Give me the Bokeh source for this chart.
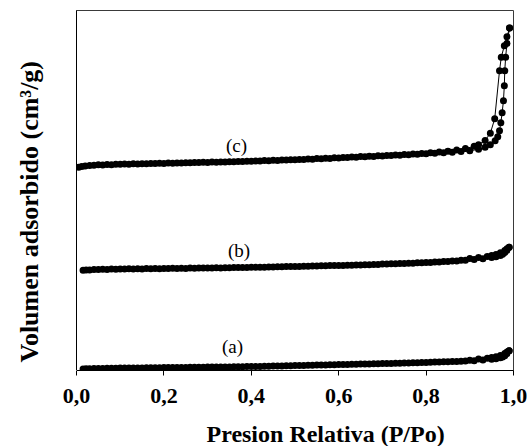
from bokeh.plotting import figure
from bokeh.models import Range1d, FixedTicker, Label, Title, LinearAxis
from bokeh.embed import file_html
from bokeh.resources import INLINE

# ---------------- data ----------------
x_ticks = [0.0, 0.2, 0.4, 0.6, 0.8, 1.0]
x_tick_labels = ["0,0", "0,2", "0,4", "0,6", "0,8", "1,0"]
series_names = ["(a)", "(b)", "(c)"]
x_title = "Presion Relativa (P/Po)"
y_title = "Volumen adsorbido (cm³/g)"

# relative pressure grids for samples (a) and (b)
p_ads_ab = [0.015, 0.03, 0.05, 0.07, 0.09, 0.11, 0.13, 0.15, 0.17, 0.19, 0.21, 0.23,
            0.25, 0.27, 0.29, 0.31, 0.33, 0.35, 0.37, 0.39, 0.41, 0.43, 0.45, 0.47,
            0.49, 0.51, 0.53, 0.55, 0.57, 0.59, 0.61, 0.63, 0.65, 0.67, 0.69, 0.71,
            0.73, 0.75, 0.77, 0.79, 0.81, 0.83, 0.85, 0.87, 0.89, 0.91, 0.93, 0.95,
            0.96, 0.97, 0.975, 0.98, 0.985, 0.99]
p_des_ab = [0.99, 0.985, 0.98, 0.97, 0.96, 0.95, 0.94, 0.92, 0.90, 0.88, 0.86, 0.84,
            0.82, 0.80, 0.78, 0.76, 0.74, 0.72, 0.70, 0.68, 0.66, 0.64, 0.62, 0.60,
            0.58, 0.56, 0.54, 0.52, 0.50, 0.48, 0.46, 0.44, 0.42, 0.40, 0.38, 0.36,
            0.34, 0.32, 0.30, 0.28, 0.26, 0.24, 0.22, 0.20, 0.18, 0.16, 0.14, 0.12, 0.10,
            0.08, 0.06, 0.04, 0.022]

v_ads_a = [1.5, 1.8, 2.0, 2.2, 2.3, 2.4, 2.5, 2.6, 2.7, 2.8, 2.9, 3.0,
           3.1, 3.2, 3.3, 3.4, 3.5, 3.6, 3.7, 3.9, 4.0, 4.2, 4.4, 4.6,
           4.8, 5.0, 5.2, 5.4, 5.6, 5.8, 6.0, 6.2, 6.4, 6.6, 6.8, 7.0,
           7.2, 7.4, 7.7, 7.9, 8.2, 8.5, 8.8, 9.1, 9.5, 9.9, 10.5, 11.2,
           11.8, 12.8, 13.6, 14.8, 16.8, 19.8]
v_des_a = [19.8, 18.5, 17.0, 15.0, 13.8, 13.0, 12.4, 11.6, 10.4, 9.4, 9.0, 8.7,
           8.4, 8.1, 7.8, 7.6, 7.3, 7.1, 6.9, 6.7, 6.5, 6.3, 6.1, 5.9,
           5.7, 5.5, 5.3, 5.1, 4.9, 4.7, 4.5, 4.3, 4.1, 3.95, 3.8, 3.7,
           3.6, 3.5, 3.4, 3.3, 3.2, 3.1, 3.0, 2.9, 2.8, 2.7, 2.6, 2.5, 2.4,
           2.3, 2.1, 1.9, 1.7]

v_ads_b = [100.5, 100.9, 101.2, 101.4, 101.6, 101.7, 101.8, 101.9, 102.0, 102.1, 102.2, 102.3,
           102.4, 102.6, 102.7, 102.8, 102.9, 103.0, 103.2, 103.3, 103.5, 103.6, 103.8, 104.0,
           104.2, 104.4, 104.6, 104.8, 105.0, 105.2, 105.4, 105.6, 105.8, 106.1, 106.4, 106.7,
           107.0, 107.3, 107.6, 108.0, 108.4, 108.8, 109.3, 109.8, 110.5, 111.2, 112.0, 113.2,
           114.0, 115.4, 116.6, 118.2, 120.5, 123.7]
v_des_b = [123.7, 122.0, 120.3, 118.0, 116.3, 115.2, 114.2, 113.2, 112.3, 110.6, 109.9, 109.3,
           108.8, 108.4, 108.0, 107.6, 107.3, 107.0, 106.7, 106.4, 106.1, 105.8, 105.6, 105.4,
           105.2, 105.0, 104.8, 104.6, 104.4, 104.2, 104.0, 103.8, 103.6, 103.5, 103.3, 103.2,
           103.1, 103.0, 102.9, 102.8, 102.7, 102.6, 102.5, 102.4, 102.3, 102.2, 102.1, 102.0, 101.9,
           101.7, 101.5, 101.2, 100.8]

# sample (c): adsorption and desorption branches (hysteresis loop)
p_ads_c = [0.005, 0.02, 0.04, 0.06, 0.08, 0.10, 0.12, 0.14, 0.16, 0.18, 0.20, 0.22,
           0.24, 0.26, 0.28, 0.30, 0.32, 0.34, 0.36, 0.38, 0.40, 0.42, 0.44, 0.46,
           0.48, 0.50, 0.52, 0.54, 0.56, 0.58, 0.60, 0.62, 0.64, 0.66, 0.68, 0.70,
           0.72, 0.74, 0.76, 0.78, 0.80, 0.82, 0.84, 0.86, 0.88, 0.90, 0.92, 0.935,
           0.947, 0.958, 0.964, 0.968, 0.971, 0.974, 0.977, 0.979, 0.980, 0.982, 0.985, 0.991]
v_ads_c = [203.8, 205.0, 205.7, 206.1, 206.4, 206.7, 206.9, 207.1, 207.3, 207.5, 207.7, 207.9,
           208.1, 208.3, 208.5, 208.7, 208.9, 209.1, 209.3, 209.5, 209.8, 210.1, 210.4, 210.7,
           211.0, 211.3, 211.6, 211.9, 212.3, 212.7, 213.1, 213.5, 213.9, 214.3, 214.7, 215.1,
           215.5, 215.9, 216.4, 216.9, 217.4, 217.9, 218.4, 218.9, 219.5, 220.3, 221.8, 223.8,
           226.5, 230.5, 234.5, 240.5, 248.5, 258.5, 270.5, 285.5, 300.5, 314.0, 328.0, 343.4]
p_des_c = [0.991, 0.985, 0.979, 0.972, 0.968, 0.957, 0.947, 0.935, 0.92, 0.91, 0.89, 0.87,
           0.85, 0.83, 0.81, 0.79, 0.77, 0.75, 0.73, 0.71, 0.69, 0.67, 0.65, 0.63,
           0.61, 0.59, 0.57, 0.55, 0.53, 0.51, 0.49, 0.47, 0.45, 0.43, 0.41, 0.39,
           0.37, 0.35, 0.33, 0.31, 0.29, 0.27, 0.25, 0.23, 0.21, 0.19, 0.17, 0.15, 0.13, 0.11,
           0.09, 0.07, 0.05, 0.03, 0.012]
v_des_c = [343.4, 334.7, 325.7, 314.0, 300.7, 252.4, 238.0, 230.7, 226.5, 224.8, 222.6, 221.0,
           219.9, 219.0, 218.3, 217.7, 217.2, 216.7, 216.2, 215.7, 215.3, 214.9, 214.5, 214.1,
           213.7, 213.3, 212.9, 212.5, 212.1, 211.7, 211.4, 211.1, 210.8, 210.5, 210.2, 209.9,
           209.6, 209.4, 209.2, 209.0, 208.8, 208.6, 208.4, 208.2, 208.0, 207.8, 207.6, 207.4, 207.2, 207.0,
           206.8, 206.5, 206.2, 205.6, 204.6]

# ---------------- figure ----------------
W, H = 527, 446
ML, MR, MT, MB = 76, 14, 10, 75
SERIF = "Liberation Serif"

p = figure(width=W, height=H, output_backend="svg", toolbar_location=None,
           x_range=Range1d(0, 1), y_range=Range1d(0, H - MT - MB),
           min_border_left=ML, min_border_right=MR, min_border_top=MT, min_border_bottom=MB)
p.grid.visible = False
p.background_fill_color = "white"
p.border_fill_color = "white"
p.outline_line_color = "#3a3a3a"
p.outline_line_width = 1

# x axis
p.xaxis.ticker = FixedTicker(ticks=x_ticks)
p.xaxis.major_label_overrides = {t: lab for t, lab in zip(x_ticks, x_tick_labels)}
p.xaxis.major_tick_out = 5
p.xaxis.major_tick_in = 0
p.xaxis.minor_tick_line_color = None
p.xaxis.axis_line_color = "black"
p.xaxis.major_tick_line_color = "black"
p.xaxis.major_label_text_font = SERIF
p.xaxis.major_label_text_font_style = "bold"
p.xaxis.major_label_text_font_size = "22px"
p.xaxis.major_label_text_color = "black"
p.xaxis.major_label_standoff = 13

# y axis: line only, no numbers; one invisible (white) tick reserves room for the title
p.yaxis.ticker = FixedTicker(ticks=[0.0])
p.yaxis.major_label_overrides = {0.0: ""}
p.yaxis.major_label_text_font_size = "1px"
p.yaxis.major_label_standoff = 0
p.yaxis.minor_tick_line_color = None
p.yaxis.major_tick_line_color = "white"
p.yaxis.major_tick_out = 33
p.yaxis.major_tick_in = 0
p.yaxis.minor_tick_out = 0
p.yaxis.axis_line_color = "black"

# blank spacer below the x axis so that its title sits lower
spacer = LinearAxis(ticker=FixedTicker(ticks=[0.0]), axis_line_color=None,
                    major_tick_line_color="white", minor_tick_line_color=None,
                    major_tick_out=13, major_tick_in=0, minor_tick_out=0,
                    major_label_standoff=0, major_label_overrides={0.0: ""},
                    major_label_text_font_size="1px")
p.add_layout(spacer, "below")

p.add_layout(Title(text=x_title, align="left", offset=130, vertical_align="bottom",
                   standoff=0, text_font=SERIF, text_font_style="bold",
                   text_font_size="24px", text_color="black"), "below")
p.add_layout(Title(text=y_title, align="left", offset=8, vertical_align="bottom",
                   standoff=0, text_font=SERIF, text_font_style="bold",
                   text_font_size="26px", text_color="black"), "left")

branches = [
    (p_ads_ab, v_ads_a), (p_des_ab, v_des_a),
    (p_ads_ab, v_ads_b), (p_des_ab, v_des_b),
    (p_ads_c, v_ads_c), (p_des_c, v_des_c),
]
for xs, ys in branches:
    p.line(xs, ys, line_color="black", line_width=1)
    p.scatter(xs, ys, marker="circle", size=7, fill_color="black", line_color=None)

# series labels
label_pos = [(0.357, 24.5), (0.372, 120.5), (0.366, 225.5)]
for name, (lx, ly) in zip(series_names, label_pos):
    p.add_layout(Label(x=lx, y=ly, text=name, text_align="center", text_baseline="middle",
                       text_font=SERIF, text_font_size="19px", text_color="black"))

open("out.html", "w").write(file_html(p, INLINE))
